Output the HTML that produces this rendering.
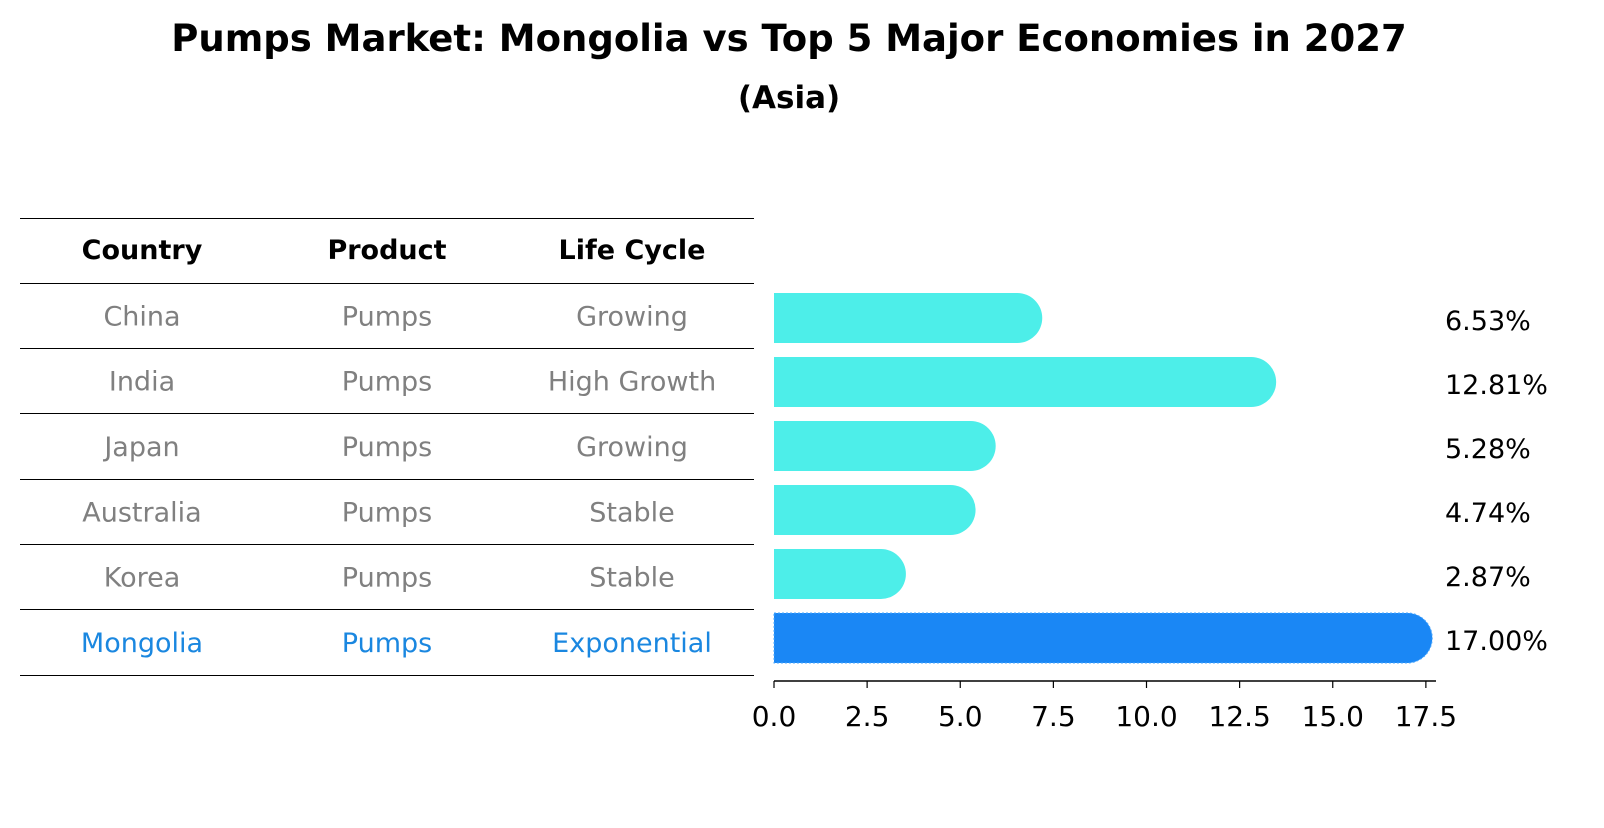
<!DOCTYPE html>
<html><head><meta charset="utf-8"><style>
body{margin:0;background:#fff;font-family:"Liberation Sans","DejaVu Sans",sans-serif;}
</style></head><body>
<svg width="1604" height="823" xmlns="http://www.w3.org/2000/svg" font-family="DejaVu Sans, Liberation Sans, sans-serif">
<text x="789" y="51" text-anchor="middle" font-size="37" font-weight="bold">Pumps Market: Mongolia vs Top 5 Major Economies in 2027</text>
<text x="789" y="108" text-anchor="middle" font-size="31" font-weight="bold">(Asia)</text>
<g id="table"></g>
<g id="bars"></g>
<g id="axis"></g>
</svg>
<script>
const countries=["China","India","Japan","Australia","Korea","Mongolia"];
const products=["Pumps","Pumps","Pumps","Pumps","Pumps","Pumps"];
const cycles=["Growing","High Growth","Growing","Stable","Stable","Exponential"];
const values=[6.53,12.81,5.28,4.74,2.87,17.00];
const ticks=[0,2.5,5,7.5,10,12.5,15,17.5];
const NS="http://www.w3.org/2000/svg";
const x0=774,ppu=37.25,r=25;
const xs=v=>x0+v*ppu;
const rowY=i=>318+i*64;
function mk(t,a,p){const e=document.createElementNS(NS,t);for(const k in a)e.setAttribute(k,a[k]);p.appendChild(e);return e;}
const tbl=document.getElementById('table'),bars=document.getElementById('bars'),ax=document.getElementById('axis');
const lines=[218,283,348,413,479,544,609,675];
lines.forEach(y=>{const l=mk('line',{x1:20,x2:754,y1:y+0.5,y2:y+0.5,stroke:'#000','stroke-width':1},tbl);

});
const colX=[142,387,632];
["Country","Product","Life Cycle"].forEach((h,j)=>{const t=mk('text',{x:colX[j],y:259,'text-anchor':'middle','font-size':27,'font-weight':'bold'},tbl);t.textContent=h;

});
countries.forEach((c,i)=>{const col=i===5?'#1a87e0':'#808080';const y=(lines[i+1]+lines[i+2])/2+10;
[c,products[i],cycles[i]].forEach((s,j)=>{const t=mk('text',{x:colX[j],y:y,'text-anchor':'middle','font-size':27,fill:col},tbl);t.textContent=s;

});
const cy=rowY(i),w=xs(values[i])-x0;
const p=mk('path',{d:`M${x0},${cy-25} h${w} a${r},${r} 0 0 1 0,50 h${-w} Z`,fill:i===5?'#1a87f5':'#4deee9',stroke:i===5?'#4aa8ff':'none','stroke-dasharray':'2,2','stroke-width':1},bars);


const t=mk('text',{x:1445,y:cy+12,'font-size':27},bars);t.textContent=values[i].toFixed(2)+'%';

});
mk('line',{x1:x0,x2:1436,y1:681,y2:681,stroke:'#000','stroke-width':1.5},ax);
ticks.forEach(v=>{const x=xs(v);mk('line',{x1:x,x2:x,y1:681,y2:688,stroke:'#000','stroke-width':1.2},ax);
const t=mk('text',{x:x,y:726,'text-anchor':'middle','font-size':28},ax);t.textContent=v.toFixed(1);

});
</script>
</body></html>
